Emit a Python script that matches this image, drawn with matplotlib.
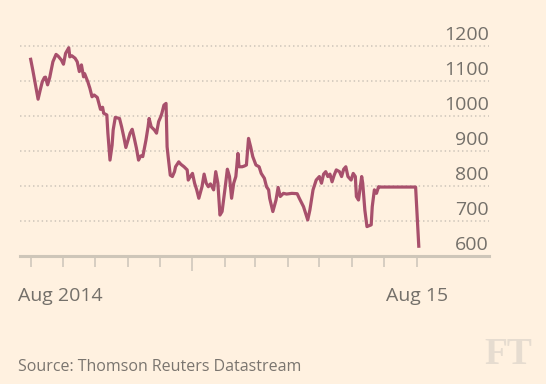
import matplotlib
matplotlib.use("Agg")
import matplotlib.pyplot as plt
import matplotlib.dates as mdates
import pandas as pd

# data: days since 1 Aug 2014 and index level
start_date = "2014-08-01"
days = [0, 2, 4, 7, 9, 11, 13, 14, 16, 18, 20, 21, 24, 26, 29, 31, 33, 36, 37, 39,
        42, 44, 46, 48, 50, 51, 54, 56, 58, 60, 63, 66, 68, 69, 72, 73, 75, 77, 78, 80,
        84, 86, 88, 90, 92, 94, 96, 98, 100, 102, 104, 106, 109, 111, 112, 114, 117, 119, 121, 123,
        124, 126, 128, 129, 130, 132, 134, 136, 137, 140, 142, 145, 148, 149, 151, 153, 155, 157, 159, 162,
        164, 166, 168, 170, 173, 175, 177, 179, 181, 184, 186, 188, 190, 192, 194, 196, 197, 200, 202, 204,
        206, 208, 210, 213, 216, 218, 221, 223, 225, 226, 229, 232, 234, 236, 239, 242, 247, 252, 254, 258,
        262, 264, 267, 270, 273, 275, 277, 279, 281, 283, 285, 287, 289, 292, 294, 296, 298, 300, 303, 305,
        307, 308, 310, 313, 314, 316, 318, 322, 323, 325, 327, 329, 330, 364, 367]
values = [1162, 1131, 1098, 1048, 1074, 1098, 1110, 1111, 1089, 1110, 1141, 1155, 1176, 1171, 1160, 1148, 1179, 1195, 1169, 1172,
          1165, 1155, 1127, 1146, 1112, 1121, 1098, 1079, 1055, 1060, 1053, 1019, 1025, 1008, 1003, 951, 874, 917, 960, 996,
          993, 969, 941, 910, 931, 951, 962, 936, 908, 874, 886, 884, 931, 969, 993, 969, 960, 951, 984, 998,
          1007, 1031, 1036, 912, 884, 831, 827, 841, 855, 869, 862, 855, 846, 817, 827, 836, 808, 789, 765, 798,
          834, 808, 798, 806, 789, 841, 808, 717, 727, 798, 848, 827, 765, 808, 827, 893, 855, 855, 857, 860,
          936, 912, 884, 860, 855, 836, 822, 798, 789, 765, 727, 760, 796, 770, 779, 777, 779, 778, 765, 741,
          703, 731, 789, 817, 827, 808, 834, 841, 827, 834, 812, 831, 846, 841, 827, 848, 855, 827, 817, 836,
          827, 770, 760, 827, 808, 731, 684, 689, 741, 789, 779, 798, 797, 797, 628]

y_ticks = [600, 700, 800, 900, 1000, 1100, 1200]

bg = "#fff1e0"
line_color = "#a8506c"
grid_color = "#d4cbbf"
text_color = "#74706a"

plt.rcParams["font.family"] = ["Open Sans", "DejaVu Sans"]

dates = pd.to_datetime(start_date) + pd.to_timedelta(days, unit="D")

fig = plt.figure(figsize=(5.46, 3.84), dpi=100, facecolor=bg)
ax = fig.add_axes([20 / 546, 1 - 256 / 384, 469 / 546, 213.5 / 384])
ax.set_facecolor(bg)

# dotted gridlines
for v in y_ticks[1:]:
    ax.axhline(v, color=grid_color, lw=1.3, dashes=(0.8, 1.6), zorder=1)
ax.axhline(600, color="#cec6b9", lw=2.2, zorder=2, clip_on=False)

ax.plot(dates, values, color=line_color, lw=2.3, solid_joinstyle="round", zorder=3)

x0 = pd.to_datetime(start_date)
ax.set_xlim(x0 - pd.Timedelta(days=10.1), x0 + pd.Timedelta(days=433.4))
ax.set_ylim(600, 1210)

for s in ax.spines.values():
    s.set_visible(False)

# monthly ticks, January longer
months = pd.date_range("2014-08-01", "2015-08-01", freq="MS")
ax.set_xticks([mdates.date2num(m) for m in months if m.month != 1])
ax.set_xticks([mdates.date2num(m) for m in months if m.month == 1], minor=True)
ax.tick_params(axis="x", which="major", length=8, width=1.3, color="#d3cbbf", labelbottom=False)
ax.tick_params(axis="x", which="minor", length=11, width=1.3, color="#d3cbbf", labelbottom=False)
ax.set_yticks([])

for v in y_ticks:
    ax.annotate(str(v), xy=(1, v), xycoords=("axes fraction", "data"),
                xytext=(0, 6), textcoords="offset pixels",
                ha="right", va="baseline", fontsize=14, color=text_color)

fig.text(18 / 546, 1 - 296 / 384, "Aug 2014", ha="left", va="center", fontsize=14, color=text_color)
fig.text(417 / 546, 1 - 296 / 384, "Aug 15", ha="center", va="center", fontsize=14, color=text_color)
fig.text(18 / 546, 1 - 367 / 384, "Source: Thomson Reuters Datastream", ha="left", va="center",
         fontsize=11.5, color="#7a756f")
fig.text(508 / 546, 1 - 354 / 384, "FT", ha="center", va="center", fontsize=27,
         family="Liberation Serif", fontweight="bold", color="#e6dcd0")

fig.savefig("out.png", dpi=100, facecolor=bg)
